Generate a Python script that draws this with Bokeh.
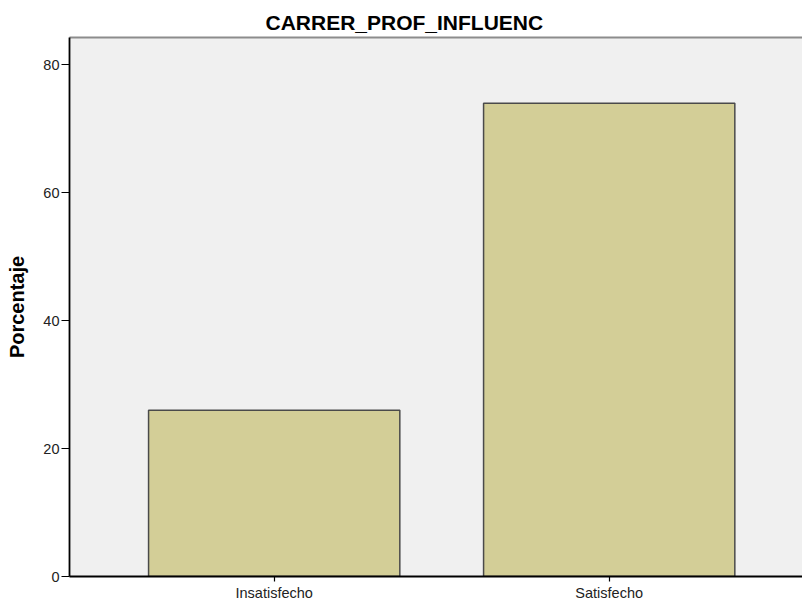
from bokeh.plotting import figure
from bokeh.models import ColumnDataSource, Range1d, FixedTicker, LinearAxis
from bokeh.embed import file_html
from bokeh.resources import INLINE

categories = ["Insatisfecho", "Satisfecho"]
percent = [26.0, 74.0]
y_ticks = [0, 20, 40, 60, 80]

xpos = [i + 1 for i in range(len(categories))]
src = ColumnDataSource(dict(x=xpos, top=percent, cat=categories))

p = figure(width=802, height=603, output_backend="svg", toolbar_location=None,
           x_range=Range1d(0.389, 2.577), y_range=Range1d(0, 84.26),
           min_border_left=69, min_border_right=0, min_border_top=37, min_border_bottom=26)

xax = p.below[0]
yax = p.left[0]

p.title.text = "CARRER_PROF_INFLUENC"
p.title.align = "left"
p.title.offset = 196
p.title.text_font = "Liberation Sans"
p.title.text_font_size = "21px"
p.title.text_font_style = "bold"
p.title.text_color = "#000000"
p.title.standoff = 8

p.background_fill_color = "#F0F0F0"
p.border_fill_color = "#FFFFFF"
p.outline_line_color = None
p.xgrid.visible = False
p.ygrid.visible = False

# top border of the plot frame (gray), drawn as a bare axis line
top_axis = LinearAxis(ticker=FixedTicker(ticks=[]), axis_line_color="#8c8c8c",
                      axis_line_width=2, major_tick_line_color=None,
                      minor_tick_line_color=None, major_tick_out=0, major_tick_in=0,
                      major_label_standoff=0, major_label_text_font_size="0px")
p.add_layout(top_axis, "above")

p.vbar(x="x", top="top", width=0.75, source=src, fill_color="#D3CE97",
       line_color="#4a4a4a", line_width=1.5)

xax.ticker = FixedTicker(ticks=xpos)
xax.major_label_overrides = {x: c for x, c in zip(xpos, categories)}
yax.ticker = FixedTicker(ticks=y_ticks)
yax.axis_label = "Porcentaje"

for ax in (xax, yax):
    ax.axis_line_color = "#000000"
    ax.axis_line_width = 1.8
    ax.major_tick_line_color = "#000000"
    ax.major_tick_line_width = 1.2
    ax.major_tick_in = 0
    ax.minor_tick_line_color = None
    ax.major_label_text_font = "Liberation Sans"
    ax.major_label_text_font_size = "14.5px"
    ax.major_label_text_color = "#222222"

xax.major_tick_out = 5
xax.major_label_standoff = 3
yax.major_tick_out = 8
yax.major_label_standoff = 2
yax.axis_label_text_font = "Liberation Sans"
yax.axis_label_text_font_size = "20px"
yax.axis_label_text_font_style = "bold"
yax.axis_label_text_color = "#000000"
yax.axis_label_standoff = 12

open("out.html", "w").write(file_html(p, INLINE))
